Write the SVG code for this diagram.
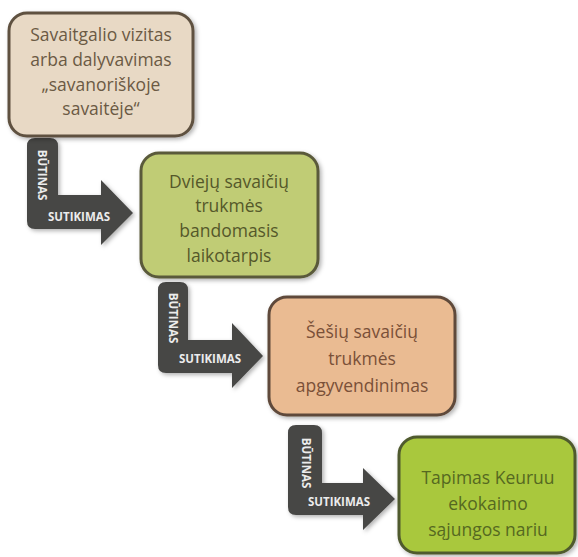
<svg xmlns="http://www.w3.org/2000/svg" width="578" height="557" viewBox="0 0 578 557">
<defs>
<filter id="sh" x="-10%" y="-10%" width="130%" height="130%">
<feDropShadow dx="2" dy="2" stdDeviation="2" flood-color="#000" flood-opacity="0.3"/>
</filter>
<style>
.box{stroke-width:3;filter:url(#sh)}
.t{font-family:"Open Sans","Liberation Sans",sans-serif;font-size:17.5px;text-anchor:middle}
.arr{fill:#474745;filter:url(#sh)}
.lbl{font-family:"Open Sans","Liberation Sans",sans-serif;font-size:11.5px;font-weight:bold;fill:#ececec;text-anchor:middle;dominant-baseline:central}
</style>
</defs>
<rect width="578" height="557" fill="#ffffff"/>
<g id="connectors">
<g id="arrow1">
<path class="arr" d="M27,146 Q27,138 35,138 L50,138 Q58,138 58,146 L58,195 L101,195 L101,180 L133,213 L101,245 L101,229 L35,229 Q27,229 27,221 Z"/>
<text class="lbl" transform="translate(42,175) rotate(90)">BŪTINAS</text>
<text class="lbl" x="79" y="216">SUTIKIMAS</text>
</g>
<g id="arrow2">
<path class="arr" d="M158,290 Q158,282 166,282 L180,282 Q188,282 188,290 L188,340 L232,340 L232,323 L263,356 L232,388 L232,373 L166,373 Q158,373 158,365 Z"/>
<text class="lbl" transform="translate(173,318) rotate(90)">BŪTINAS</text>
<text class="lbl" x="210" y="358">SUTIKIMAS</text>
</g>
<g id="arrow3">
<path class="arr" d="M288,433 Q288,425 296,425 L314,425 Q322,425 322,433 L322,483 L363,483 L363,468 L395,499 L363,530 L363,515 L296,515 Q288,515 288,507 Z"/>
<text class="lbl" transform="translate(306,463) rotate(90)">BŪTINAS</text>
<text class="lbl" x="339" y="501">SUTIKIMAS</text>
</g>
</g>
<g id="node1">
<rect class="box" x="9" y="13" width="184" height="123" rx="18" fill="#e8d9c5" stroke="#5e5140"/>
<g class="t" fill="#6b5a44">
<text x="101" y="41">Savaitgalio vizitas</text>
<text x="101" y="66">arba dalyvavimas</text>
<text x="101" y="91">„savanoriškoje</text>
<text x="101" y="115">savaitėje“</text>
</g>
</g>
<g id="node2">
<rect class="box" x="141" y="153" width="177" height="124" rx="18" fill="#c0cc75" stroke="#5a5a3a"/>
<g class="t" fill="#55582a">
<text x="229" y="188">Dviejų savaičių</text>
<text x="229" y="212">trukmės</text>
<text x="229" y="237">bandomasis</text>
<text x="229" y="262">laikotarpis</text>
</g>
</g>
<g id="node3">
<rect class="box" x="269" y="297" width="186" height="118" rx="18" fill="#eabb92" stroke="#5f4a3a"/>
<g class="t" fill="#7a5038">
<text x="362" y="338">Šešių savaičių</text>
<text x="362" y="365">trukmės</text>
<text x="362" y="392">apgyvendinimas</text>
</g>
</g>
<g id="node4">
<rect class="box" x="399" y="437" width="176" height="116" rx="18" fill="#a9c83c" stroke="#4f5a2e"/>
<g class="t" fill="#556821">
<text x="488" y="484">Tapimas Keuruu</text>
<text x="488" y="510">ekokaimo</text>
<text x="488" y="536">sąjungos nariu</text>
</g>
</g>
</svg>
